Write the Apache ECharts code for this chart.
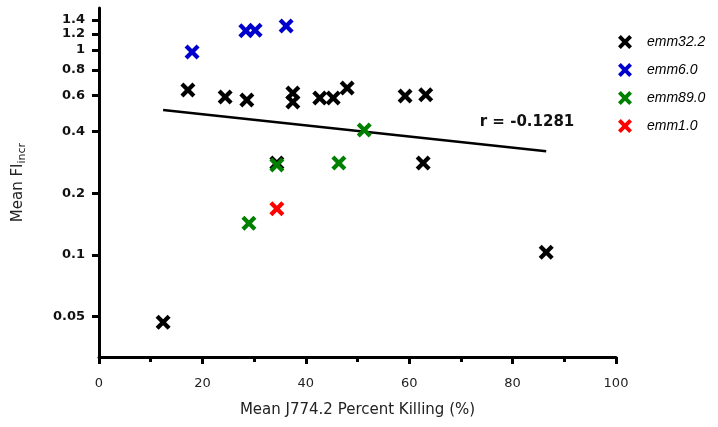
<!DOCTYPE html>
<html>
<head>
<meta charset="utf-8">
<script src="https://cdn.jsdelivr.net/npm/echarts@6/dist/echarts.min.js"></script>
<style>
  html, body { margin: 0; padding: 0; background: #fff; }
  #container { width: 718px; height: 427px; }
</style>
</head>
<body>
<div id="container"></div>
<script>
//数据
var emm322X = [17.2, 24.4, 28.6, 37.5, 37.5, 42.7, 45.3, 48.0, 59.2, 63.2, 34.4, 62.7, 86.5, 12.4];
var emm322Y = [0.638, 0.590, 0.570, 0.617, 0.557, 0.583, 0.583, 0.653, 0.597, 0.605, 0.281, 0.281, 0.103, 0.047];
var emm60X = [18.0, 28.4, 30.2, 36.2];
var emm60Y = [0.978, 1.24, 1.25, 1.31];
var emm890X = [34.4, 46.4, 51.3, 29.0];
var emm890Y = [0.275, 0.281, 0.407, 0.143];
var emm10X = [34.4];
var emm10Y = [0.168];
//回归线的两端
var fitX = [12.4, 86.5];
var fitY = [0.51, 0.321];
var yTicks = [0.05, 0.1, 0.2, 0.4, 0.6, 0.8, 1, 1.2, 1.4];
var seriesNames = ['emm32.2', 'emm6.0', 'emm89.0', 'emm1.0'];
var seriesColors = ['#000000', '#0000cc', '#008000', '#ff0000'];

var xMark = 'path://M2,0L5,3L8,0L10,2L7,5L10,8L8,10L5,7L2,10L0,8L3,5L0,2Z';

function toPts(xs, ys) {
  return xs.map(function (x, i) { return [x, Math.log10(ys[i])]; });
}

var dom = document.getElementById('container');
var myChart = echarts.init(dom, null, { renderer: 'canvas' });

var allX = [emm322X, emm60X, emm890X, emm10X];
var allY = [emm322Y, emm60Y, emm890Y, emm10Y];
var mySeries = [];
for (var i = 0; i < 4; i++) {
  mySeries.push({
    name: seriesNames[i],
    type: 'scatter',
    symbol: xMark,
    symbolSize: 15,
    itemStyle: { color: seriesColors[i], opacity: 1 },
    data: toPts(allX[i], allY[i])
  });
}
mySeries.push({
  name: 'fit',
  type: 'line',
  symbol: 'none',
  lineStyle: { color: '#000', width: 2.5 },
  data: toPts(fitX, fitY),
  z: 1
});

var logTicks = yTicks.map(function (v) { return Math.log10(v); });

var option = {
  animation: false,
  grid: { left: 99, right: 102, top: 8, bottom: 70, outerBoundsMode: 'none' },
  legend: {
    data: seriesNames,
    orient: 'vertical',
    left: 613,
    top: 30,
    itemWidth: 14,
    itemHeight: 14,
    itemGap: 14,
    itemStyle: { opacity: 1 },
    textStyle: { fontStyle: 'italic', fontSize: 14, color: '#000', fontFamily: 'Liberation Sans', padding: [0, 0, 0, 10] }
  },
  xAxis: {
    type: 'value',
    min: 0,
    max: 100,
    interval: 20,
    name: 'Mean J774.2 Percent Killing (%)',
    nameLocation: 'middle',
    nameGap: 46,
    nameTextStyle: { fontSize: 15, color: '#222', fontFamily: 'DejaVu Sans' },
    axisLine: { onZero: false, lineStyle: { color: '#000', width: 3 } },
    axisTick: { length: 7, lineStyle: { color: '#000', width: 3 } },
    minorTick: { show: true, splitNumber: 2, length: 5, lineStyle: { color: '#000', width: 3 } },
    axisLabel: { fontSize: 13, color: '#222', margin: 20, fontFamily: 'DejaVu Sans' },
    splitLine: { show: false }
  },
  yAxis: {
    type: 'value',
    min: -1.4976,
    max: 0.205,
    name: '{a|Mean FI}{b|incr}',
    nameLocation: 'middle',
    nameGap: 71,
    nameRotate: 90,
    nameTextStyle: {
      rich: {
        a: { fontSize: 15, color: '#222', fontFamily: 'DejaVu Sans' },
        b: { fontSize: 11, color: '#222', fontFamily: 'DejaVu Sans', padding: [8, 0, 0, 0] }
      }
    },
    axisLine: { onZero: false, lineStyle: { color: '#000', width: 3 } },
    axisTick: { length: 7, customValues: logTicks, lineStyle: { color: '#000', width: 3 } },
    axisLabel: {
      customValues: logTicks,
      hideOverlap: false,
      fontSize: 13,
      fontWeight: 'bold',
      color: '#111',
      margin: 14,
      fontFamily: 'DejaVu Sans',
      formatter: function (v) { return String(parseFloat(Math.pow(10, v).toFixed(2))); }
    },
    splitLine: { show: false }
  },
  graphic: [{
    type: 'text',
    x: 527,
    y: 122,
    style: { text: 'r = -0.1281', fill: '#111', font: 'bold 15px DejaVu Sans', textAlign: 'center', textVerticalAlign: 'middle' }
  }],
  series: mySeries
};

myChart.setOption(option);
</script>
</body>
</html>
